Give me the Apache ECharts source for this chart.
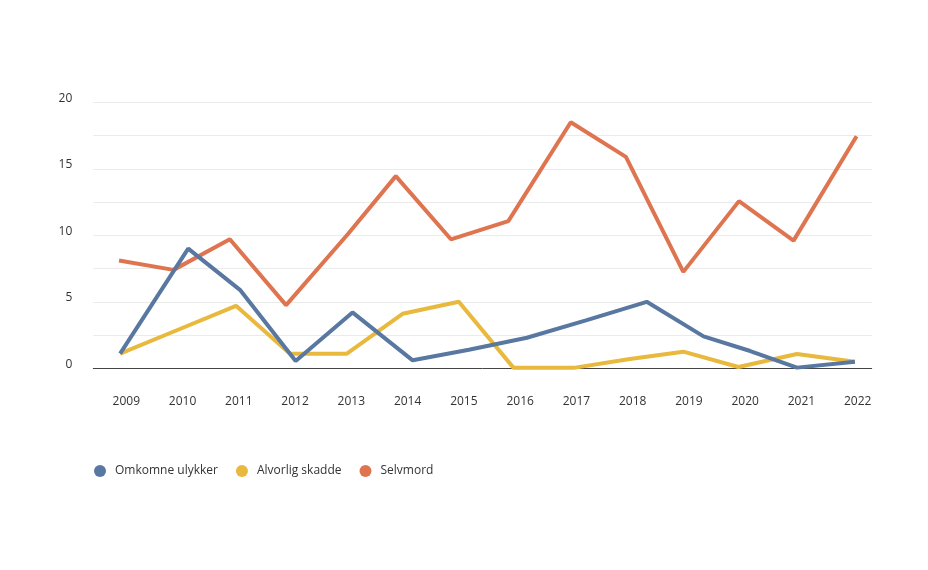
<!DOCTYPE html>
<html>
<head>
<meta charset="utf-8">
<script src="https://cdn.jsdelivr.net/npm/echarts@6/dist/echarts.min.js"></script>
<style>
html,body{margin:0;padding:0;background:#fff;}
#chart{width:928px;height:570px;}
</style>
</head>
<body>
<div id="chart"></div>
<script>
// Year labels on the x axis
const years = [2009, 2010, 2011, 2012, 2013, 2014, 2015, 2016, 2017, 2018, 2019, 2020, 2021, 2022];
const yTicks = [0, 5, 10, 15, 20];

const omkomneTid   = [2008.89, 2010.10, 2011.02, 2012.01, 2013.02, 2014.09, 2015.09, 2016.12, 2017.17, 2018.25, 2019.26, 2020.09, 2020.92, 2021.95];
const omkomne      = [1.1, 9.0, 5.9, 0.55, 4.2, 0.6, 1.4, 2.3, 3.6, 5.0, 2.4, 1.3, 0.05, 0.5];

const alvorligTid  = [2008.89, 2009.92, 2010.95, 2011.91, 2012.92, 2013.91, 2014.91, 2015.88, 2016.98, 2017.95, 2018.90, 2019.88, 2020.92, 2021.95];
const alvorlig     = [1.1, 2.9, 4.7, 1.1, 1.1, 4.1, 5.0, 0.05, 0.05, 0.7, 1.25, 0.1, 1.07, 0.5];

const selvmordTid  = [2008.87, 2009.84, 2010.84, 2011.84, 2012.94, 2013.79, 2014.77, 2015.79, 2016.90, 2017.88, 2018.90, 2019.89, 2020.86, 2021.98];
const selvmord     = [8.1, 7.4, 9.7, 4.75, 10.1, 14.45, 9.7, 11.07, 18.5, 15.9, 7.25, 12.57, 9.6, 17.45];

const names = ['Omkomne ulykker', 'Alvorlig skadde', 'Selvmord'];
const colors = ['#5878a1', '#e9b93e', '#df7450'];

function pairs(xs, ys) { return xs.map((x, i) => [x, ys[i]]); }

const chart = echarts.init(document.getElementById('chart'), null, {renderer: 'canvas'});
const font = '"Open Sans", sans-serif';

chart.setOption({
  animation: false,
  color: colors,
  grid: {left: 93.3, right: 56.3, top: 102.3, bottom: 201.7, containLabel: false},
  legend: {
    data: names.map(n => ({name: n, icon: 'circle'})),
    left: 89, top: 460,
    itemWidth: 12, itemHeight: 12, itemGap: 18,
    textStyle: {fontFamily: font, fontSize: 12, color: '#333', padding: [0, 0, 0, 4]}
  },
  xAxis: {
    type: 'value',
    min: 2009 - 33 / 56.26,
    max: 2022 + 14 / 56.26,
    splitLine: {show: false},
    axisTick: {show: false},
    axisLine: {show: true, lineStyle: {color: '#444', width: 1}},
    axisLabel: {
      customValues: years,
      margin: 27,
      fontFamily: font, fontSize: 12, color: '#333',
      formatter: v => String(Math.round(v))
    }
  },
  yAxis: {
    type: 'value',
    min: 0, max: 20, interval: 2.5,
    axisLine: {show: false},
    axisTick: {show: false},
    splitLine: {show: true, lineStyle: {color: '#ebebeb', width: 1}},
    axisLabel: {
      margin: 21,
      fontFamily: font, fontSize: 12, color: '#333',
      verticalAlign: 'bottom', lineHeight: 8,
      formatter: v => (yTicks.indexOf(v) >= 0 ? String(v) : '')
    }
  },
  series: [
    {name: names[0], type: 'line', data: pairs(omkomneTid, omkomne), symbol: 'none', lineStyle: {width: 4}, z: 3},
    {name: names[1], type: 'line', data: pairs(alvorligTid, alvorlig), symbol: 'none', lineStyle: {width: 4}, z: 2},
    {name: names[2], type: 'line', data: pairs(selvmordTid, selvmord), symbol: 'none', lineStyle: {width: 4}, z: 2}
  ]
});
</script>
</body>
</html>
